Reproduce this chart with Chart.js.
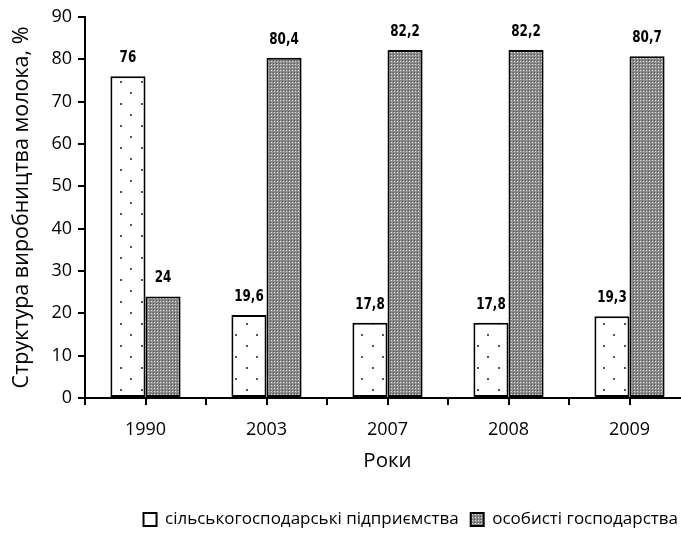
<!DOCTYPE html>
<html lang="uk">
<head>
    <meta charset="UTF-8">
    <title>Структура виробництва молока</title>
    <script src="https://cdn.jsdelivr.net/npm/chart.js"></script>
    <style>
        html, body { margin: 0; padding: 0; background: #fff; overflow: hidden; }
        #wrap { width: 681px; height: 547px; overflow: hidden; }
    </style>
</head>
<body>
    <div id="wrap">
        <canvas id="grafik" width="700" height="547"></canvas>
    </div>

    <script>
        // dani z rysunka
        const roky = ['1990', '2003', '2007', '2008', '2009'];
        const pidpryiemstva = [76, 19.6, 17.8, 17.8, 19.3];
        const gospodarstva = [24, 80.4, 82.2, 82.2, 80.7];
        const yMin = 0;
        const yMax = 90;
        const yKrok = 10;

        // vizerunky dlia stovpciv
        function dotPattern() {
            const c = document.createElement('canvas');
            c.width = 21; c.height = 22;
            const g = c.getContext('2d');
            g.fillStyle = '#fff';
            g.fillRect(0, 0, 21, 22);
            g.fillStyle = '#555';
            g.fillRect(4, 4, 2, 2);
            g.fillRect(15, 15, 2, 2);
            return g.createPattern(c, 'repeat');
        }

        function greyPattern() {
            const c = document.createElement('canvas');
            c.width = 3; c.height = 3;
            const g = c.getContext('2d');
            g.fillStyle = '#8a8a8a';
            g.fillRect(0, 0, 3, 3);
            g.fillStyle = '#e2e2e2';
            g.fillRect(1, 1, 1, 1);
            g.fillStyle = '#555';
            g.fillRect(0, 0, 1, 1);
            return g.createPattern(c, 'repeat');
        }

        const pidpysy = {
            id: 'pidpysy',
            afterDatasetsDraw(chart) {
                const ctx = chart.ctx;
                chart.data.datasets.forEach((ds, i) => {
                    chart.getDatasetMeta(i).data.forEach((bar, j) => {
                        const txt = String(ds.data[j]).replace('.', ',');
                        ctx.save();
                        ctx.translate(bar.x, bar.y - 18);
                        ctx.scale(0.8, 1); // vuzhchyi shryft, yak u originali
                        ctx.font = 'bold 15px "DejaVu Sans", sans-serif';
                        ctx.fillStyle = '#000';
                        ctx.textAlign = 'center';
                        ctx.textBaseline = 'middle';
                        ctx.fillText(txt, 0, 0);
                        ctx.restore();
                    });
                });
            }
        };

        // rysky na osi X: i po centru kategorii, i na mezhakh
        const ryskyX = {
            id: 'ryskyX',
            afterDraw(chart) {
                const sx = chart.scales.x;
                const ctx = chart.ctx;
                const half = (sx.getPixelForValue(1) - sx.getPixelForValue(0)) / 2;
                const xs = [];
                roky.forEach((r, i) => {
                    const c = sx.getPixelForValue(i);
                    if (i === 0) xs.push(c - half);
                    xs.push(c, c + half);
                });
                ctx.save();
                ctx.strokeStyle = '#000';
                ctx.lineWidth = 2;
                ctx.beginPath();
                xs.forEach(x => {
                    const px = Math.round(x);
                    ctx.moveTo(px, sx.top);
                    ctx.lineTo(px, sx.top + 7);
                });
                ctx.stroke();
                ctx.restore();
            }
        };

        const ctx = document.getElementById('grafik').getContext('2d');
        new Chart(ctx, {
            type: 'bar',
            data: {
                labels: roky,
                datasets: [
                    {
                        label: 'сільськогосподарські підприємства',
                        data: pidpryiemstva,
                        backgroundColor: dotPattern(),
                        borderColor: '#000',
                        borderWidth: 2,
                        borderSkipped: false
                    },
                    {
                        label: 'особисті господарства',
                        data: gospodarstva,
                        backgroundColor: greyPattern(),
                        borderColor: '#000',
                        borderWidth: 2,
                        borderSkipped: false
                    }
                ]
            },
            options: {
                responsive: false,
                animation: false,
                devicePixelRatio: 1,
                layout: {
                    padding: { left: 0, top: 17, right: 10, bottom: 9 }
                },
                datasets: {
                    bar: { barPercentage: 1, categoryPercentage: 0.58 }
                },
                plugins: {
                    legend: {
                        position: 'bottom',
                        align: 'end',
                        labels: {
                            color: '#000',
                            font: { family: '"Open Sans", sans-serif', size: 17 },
                            boxWidth: 13,
                            boxHeight: 13,
                            padding: 12
                        }
                    },
                    tooltip: { enabled: false }
                },
                scales: {
                    x: {
                        grid: { display: false },
                        border: { display: true, color: '#000', width: 2 },
                        ticks: {
                            color: '#000',
                            padding: 13,
                            font: { family: '"Open Sans", sans-serif', size: 18 }
                        },
                        title: {
                            display: true,
                            text: 'Роки',
                            color: '#000',
                            font: { family: '"Open Sans", sans-serif', size: 20.5 },
                            padding: { top: 0, bottom: 26 }
                        },
                        afterFit(scale) { scale.height = 101; }
                    },
                    y: {
                        min: yMin,
                        max: yMax,
                        grid: {
                            drawOnChartArea: false,
                            color: '#000',
                            lineWidth: 2,
                            tickLength: 7
                        },
                        border: { display: true, color: '#000', width: 2 },
                        ticks: {
                            stepSize: yKrok,
                            color: '#000',
                            padding: 6,
                            font: { family: '"Open Sans", sans-serif', size: 18 }
                        },
                        title: {
                            display: true,
                            text: 'Структура виробництва молока, %',
                            color: '#000',
                            font: { family: '"Open Sans", sans-serif', size: 21.5 },
                            padding: { top: 9, bottom: 0 }
                        },
                        afterFit(scale) { scale.width = 85; }
                    }
                }
            },
            plugins: [pidpysy, ryskyX]
        });
    </script>
</body>
</html>
